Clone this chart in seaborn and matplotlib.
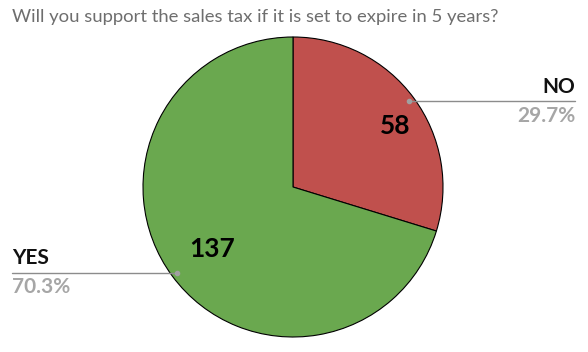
import numpy as np
import matplotlib
matplotlib.use('Agg')
import matplotlib.pyplot as plt
import seaborn as sns

# Data
answers = ['NO', 'YES']
counts = [58, 137]
colors = ['#C0504D', '#6AA84F']
title = 'Will you support the sales tax if it is set to expire in 5 years?'

sns.set_theme(style='white')
plt.rcParams['font.family'] = ['Lato', 'DejaVu Sans']

fig = plt.figure(figsize=(5.88, 3.52), dpi=100)
ax = fig.add_axes([143 / 588, 15 / 352, 300 / 588, 300 / 352])

wedges, _ = ax.pie(counts, colors=colors, startangle=90, counterclock=False,
                   wedgeprops=dict(edgecolor='black', linewidth=0.8))
ax.set_xlim(-1, 1)
ax.set_ylim(-1, 1)
ax.set_aspect('equal')

total = sum(counts)
value_r = [0.80, 0.68]
value_shift = [(0.04, -0.07), (0.01, -0.01)]
for i, w in enumerate(wedges):
    ang = np.deg2rad((w.theta1 + w.theta2) / 2)
    ca, sa = np.cos(ang), np.sin(ang)
    # count inside slice
    ax.text(value_r[i] * ca + value_shift[i][0], value_r[i] * sa + value_shift[i][1],
            str(counts[i]), ha='center', va='center',
            fontsize=19, fontweight='bold', color='black')
    # leader line and labels
    dx, dy = 0.96 * ca, 0.96 * sa
    end = 1.88 if ca > 0 else -1.875
    ha = 'right' if ca > 0 else 'left'
    ax.plot([dx, end], [dy, dy], color='#8C8C8C', lw=1, clip_on=False)
    ax.plot(dx, dy, 'o', color='#A0A0A0', ms=3, clip_on=False)
    ax.text(end, dy + 0.03, answers[i], ha=ha, va='bottom', fontsize=15,
            fontweight='bold', color='#111111', clip_on=False)
    ax.text(end, dy - 0.03, f'{counts[i] / total * 100:.1f}%', ha=ha, va='top',
            fontsize=15, fontweight='bold', color='#A6A6A6', clip_on=False)

fig.text(12 / 588, 1 - 17 / 352, title, ha='left', va='center', fontsize=13.3, color='#6E6E6E')

fig.savefig('out.png', dpi=100)
